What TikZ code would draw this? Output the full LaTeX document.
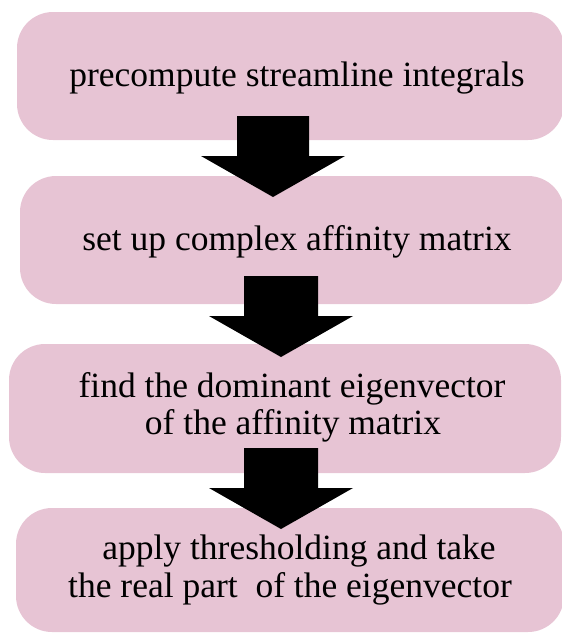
\documentclass[tikz,border=0pt]{standalone}
\usepackage{fontspec}
\setmainfont{Liberation Serif}
\definecolor{boxpink}{RGB}{231,196,212}
\tikzset{
  stepbox/.style={fill=boxpink, draw=none, rounded corners=36pt, inner sep=0pt},
  steptext/.style={anchor=base, inner sep=0pt, font=\fontsize{35.5}{38}\selectfont},
  blockarrow/.style={fill=black, draw=none}
}
% #1 = x of the arrow axis, #2 = y of the shaft top, #3 = half shaft width
\newcommand{\myblockarrow}[3]{%
  \fill[blockarrow] (#1-#3,#2) -- (#1+#3,#2) -- (#1+#3,#2+40) -- (#1+72,#2+40)
    -- (#1,#2+81) -- (#1-72,#2+40) -- (#1-#3,#2+40) -- cycle;}
\begin{document}
\begin{tikzpicture}[x=1pt,y=-1pt]
\useasboundingbox (0,0) rectangle (562,633);
% boxes
\node[stepbox, minimum width=547pt, minimum height=128pt] (b1) at (290.5,76) {};
\node[stepbox, minimum width=544pt, minimum height=128pt] (b2) at (292,240) {};
\node[stepbox, minimum width=552pt, minimum height=129pt] (b3) at (285,408.5) {};
\node[stepbox, minimum width=548pt, minimum height=124pt] (b4) at (290,570) {};
% texts
\node[steptext] (t1) at (297,86) {precompute streamline integrals};
\node[steptext] (t2) at (297,250) {set up complex affinity matrix};
\node[steptext] (t3a) at (292,397) {find the dominant eigenvector};
\node[steptext] (t3b) at (293,434) {of the affinity matrix};
\node[steptext] (t4a) at (299,559) {apply thresholding and take};
\node[steptext] (t4b) at (290,597) {the real part\ \ of the eigenvector};
% arrows between steps
\myblockarrow{273}{116}{36}
\myblockarrow{281}{276}{37}
\myblockarrow{281}{448}{37}
\end{tikzpicture}
\end{document}
